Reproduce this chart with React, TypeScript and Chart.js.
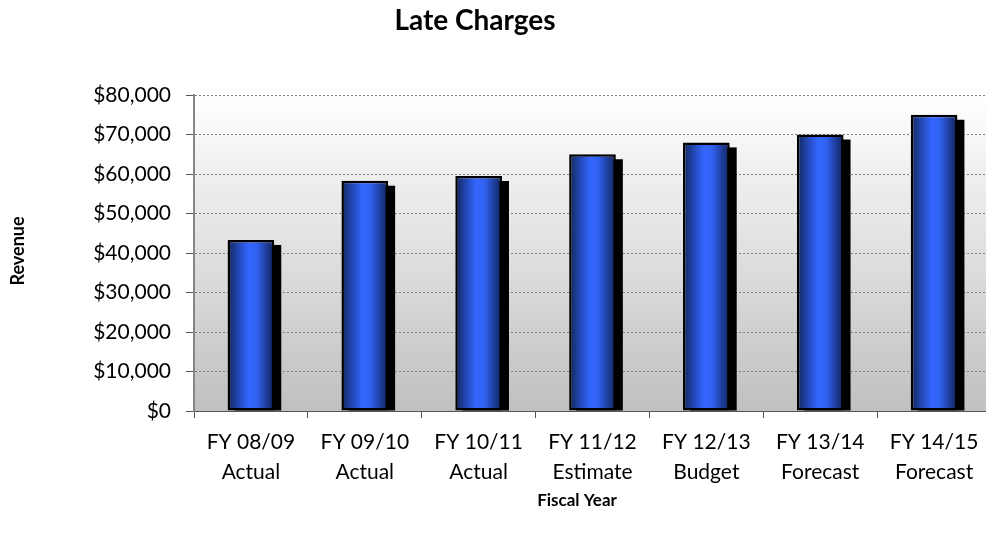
import React, { useEffect, useRef } from "react";
import { Chart, registerables } from "chart.js";

Chart.register(...registerables);

const categories: string[][] = [
  ["FY 08/09", "Actual"],
  ["FY 09/10", "Actual"],
  ["FY 10/11", "Actual"],
  ["FY 11/12", "Estimate"],
  ["FY 12/13", "Budget"],
  ["FY 13/14", "Forecast"],
  ["FY 14/15", "Forecast"],
];
const revenue: number[] = [43300, 58300, 59500, 65000, 68000, 70000, 75000];
const yMin = 0;
const yMax = 80000;
const yStep = 10000;
const chartTitle = "Late Charges";
const xTitle = "Fiscal Year";
const yTitle = "Revenue";

const FONT = "Lato, 'Open Sans', sans-serif";

const W = 1000;
const H = 540;

const bgPlugin = {
  id: "bgPlugin",
  beforeDraw(chart: any) {
    const { ctx, chartArea: a } = chart;
    ctx.save();
    ctx.fillStyle = "#ffffff";
    ctx.fillRect(0, 0, chart.width, chart.height);
    const g = ctx.createLinearGradient(0, a.top, 0, a.bottom);
    g.addColorStop(0, "#ffffff");
    g.addColorStop(1, "#c0c0c0");
    ctx.fillStyle = g;
    ctx.fillRect(a.left, a.top, a.right - a.left, a.bottom - a.top);
    ctx.restore();
  },
  beforeDatasetsDraw(chart: any) {
    const { ctx, chartArea: a } = chart;
    const meta = chart.getDatasetMeta(0);
    ctx.save();
    ctx.beginPath();
    ctx.rect(a.left, a.top, a.right - a.left, a.bottom - a.top);
    ctx.clip();
    ctx.fillStyle = "#000000";
    meta.data.forEach((bar: any) => {
      const p = bar.getProps(["x", "y", "base", "width"], true);
      const left = p.x - p.width / 2 + 7;
      const top = p.y + 5;
      ctx.fillRect(left, top, p.width, p.base - top);
    });
    ctx.restore();
  },
  afterDraw(chart: any) {
    const { ctx } = chart;
    ctx.save();
    ctx.fillStyle = "#000000";
    ctx.textAlign = "center";
    ctx.textBaseline = "alphabetic";
    ctx.font = `bold 28px ${FONT}`;
    ctx.fillText(chartTitle, 475, 30);
    ctx.font = `bold 17px ${FONT}`;
    ctx.fillText(xTitle, 577, 506);
    ctx.font = `bold 18px ${FONT}`;
    ctx.translate(24, 251);
    ctx.rotate(-Math.PI / 2);
    ctx.fillText(yTitle, 0, 0);
    ctx.restore();
  },
};

function barGradient(context: any) {
  const chart = context.chart;
  const xs = chart.scales && chart.scales.x;
  if (!xs || context.dataIndex === undefined) return "#3366ff";
  const cx = xs.getPixelForValue(context.dataIndex);
  const catW = (xs.right - xs.left) / categories.length;
  const w = catW * 0.41;
  if (!isFinite(cx) || !isFinite(w) || w <= 0) return "#3366ff";
  const g = chart.ctx.createLinearGradient(cx - w / 2, 0, cx + w / 2, 0);
  g.addColorStop(0, "#122559");
  g.addColorStop(0.22, "#2246b0");
  g.addColorStop(0.45, "#3366ff");
  g.addColorStop(0.62, "#3162f2");
  g.addColorStop(0.85, "#1d3b95");
  g.addColorStop(1, "#11245c");
  return g;
}

export default function App() {
  const ref = useRef<HTMLCanvasElement | null>(null);
  useEffect(() => {
    if (!ref.current) return;
    const chart = new Chart(ref.current, {
      type: "bar",
      data: {
        labels: categories,
        datasets: [
          {
            label: yTitle,
            data: revenue,
            backgroundColor: barGradient,
            borderColor: "#000000",
            borderWidth: 2.5,
            borderSkipped: false,
            categoryPercentage: 1,
            barPercentage: 0.41,
          },
        ],
      },
      options: {
        responsive: false,
        animation: false,
        layout: { padding: { left: 0, right: 9, top: 95, bottom: 0 } },
        plugins: {
          legend: { display: false },
          title: { display: false },
          tooltip: { enabled: false },
        },
        scales: {
          x: {
            grid: {
              display: true,
              offset: true,
              drawOnChartArea: false,
              drawTicks: true,
              tickLength: 7,
              tickColor: "#555555",
              tickWidth: 1,
            },
            border: { display: true, color: "#555555", width: 1 },
            ticks: {
              color: "#000000",
              font: { family: FONT, size: 21, lineHeight: 1.4 },
              padding: 10,
              maxRotation: 0,
              autoSkip: false,
            },
            afterFit(scale: any) {
              scale.height = H - 411;
            },
          },
          y: {
            min: yMin,
            max: yMax,
            grid: {
              color: "#808080",
              lineWidth: 1,
              drawTicks: true,
              tickLength: 8,
              tickColor: "#555555",
              tickWidth: 1,
            },
            border: { display: true, color: "#868686", width: 2, dash: [2, 2] },
            ticks: {
              stepSize: yStep,
              color: "#000000",
              font: { family: FONT, size: 21 },
              padding: 15,
              callback: (v: any) => "$" + Number(v).toLocaleString("en-US"),
            },
            afterFit(scale: any) {
              scale.width = 194;
            },
          },
        },
      },
      plugins: [bgPlugin],
    });
    return () => chart.destroy();
  }, []);
  return (
    <div style={{ position: "fixed", left: 0, top: 0, width: W, height: H, overflow: "hidden", background: "#fff" }}>
      <canvas ref={ref} width={W} height={H} style={{ width: W, height: H, display: "block" }} />
    </div>
  );
}
